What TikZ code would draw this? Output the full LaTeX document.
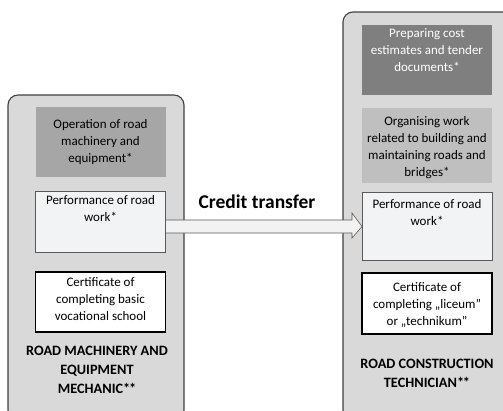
\documentclass[tikz,border=0pt]{standalone}
\usepackage{fontspec}
\setmainfont{Carlito}
\usetikzlibrary{calc}
\definecolor{contfill}{HTML}{D9D9D9}
\definecolor{contline}{HTML}{404040}
\definecolor{darkbox}{HTML}{7F7F7F}
\definecolor{midbox}{HTML}{A6A6A6}
\definecolor{lightbox}{HTML}{BFBFBF}
\definecolor{perffill}{HTML}{F2F3F5}
\definecolor{arrowfill}{HTML}{F2F2F2}
\definecolor{arrowline}{HTML}{595959}
\tikzset{
  container/.style={draw=contline, line width=1.1pt, fill=contfill, rounded corners=10pt},
  plainbox/.style={draw=none, minimum width=130pt, inner sep=0pt, outer sep=0pt},
  perfbox/.style={draw=arrowline, line width=0.6pt, fill=perffill, minimum width=130pt, inner sep=0pt, outer sep=0pt},
  certbox/.style={draw=black, line width=1.6pt, fill=white, minimum width=130pt, inner sep=0pt, outer sep=0pt},
  boxtext/.style={align=center, inner sep=0pt, font=\fontsize{13}{17}\selectfont},
  labeltext/.style={align=center, inner sep=0pt, font=\fontsize{14.3}{19}\selectfont\bfseries},
}
\newcommand{\stars}{*\kern-1.2pt*}
\begin{document}
\begin{tikzpicture}[x=1pt,y=-1pt]
\useasboundingbox (0,0) rectangle (503,410);
% containers
\path[container] (8,95) rectangle (184,420);
\path[container] (343,12) rectangle (515,420);
% left boxes
\node[plainbox, fill=midbox, minimum height=70pt] (ltop) at (100.5,142) {};
\node[boxtext] (ltopt) at (ltop.center) {Operation of road\\machinery and\\equipment*};
\node[perfbox, minimum height=61pt] (lperf) at (100.5,221.5) {};
\node[boxtext, anchor=north] (lperft) at ([yshift=-4pt]lperf.north) {Performance of road\\work*};
\node[certbox, minimum height=60pt] (lcert) at (100.5,302) {};
\node[boxtext] (lcertt) at ([yshift=3pt]lcert.center) {Certificate of\\completing basic\\vocational school};
\node[labeltext] (llabel) at (97,370) {ROAD MACHINERY AND\\EQUIPMENT\\MECHANIC\stars};
% right boxes
\node[plainbox, fill=darkbox, minimum height=70pt] (rtop) at (427,60) {};
\node[boxtext, text=white, anchor=north] (rtopt) at ([yshift=-3pt]rtop.north) {Preparing cost\\estimates and tender\\documents*};
\node[plainbox, fill=lightbox, minimum height=75pt] (rorg) at (427,145.5) {};
\node[boxtext] (rorgt) at ([yshift=-2.5pt]rorg.center) {Organising work\\related to building and\\maintaining roads and\\bridges*};
\node[perfbox, minimum height=68pt] (rperf) at (427,226) {};
\node[boxtext, anchor=north] (rperft) at ([yshift=-7pt]rperf.north) {Performance of road\\work*};
\node[certbox, minimum height=61pt] (rcert) at (427,303.5) {};
\node[boxtext] (rcertt) at ([yshift=-1.5pt]rcert.center) {Certificate of\\completing „liceum"\\or „technikum"};
\node[labeltext] (rlabel) at (427,373) {ROAD CONSTRUCTION\\TECHNICIAN\stars};
% arrow
\coordinate (tip) at (rperf.west |- 0,226.5);
\coordinate (tail) at (lperf.east |- 0,226.5);
\draw[draw=arrowline, line width=0.6pt, fill=arrowfill, line join=miter]
  ($(tail)+(0,-6.5)$) -- ($(tip)+(-10,-6.5)$) -- ($(tip)+(-10,-13.5)$) -- (tip)
  -- ($(tip)+(-10,11.5)$) -- ($(tip)+(-10,6.5)$) -- ($(tail)+(0,6.5)$) -- cycle;
\node[font=\fontsize{19.5}{22}\selectfont\bfseries, inner sep=0pt] (credit) at (257,202) {Credit transfer};
\end{tikzpicture}
\end{document}
